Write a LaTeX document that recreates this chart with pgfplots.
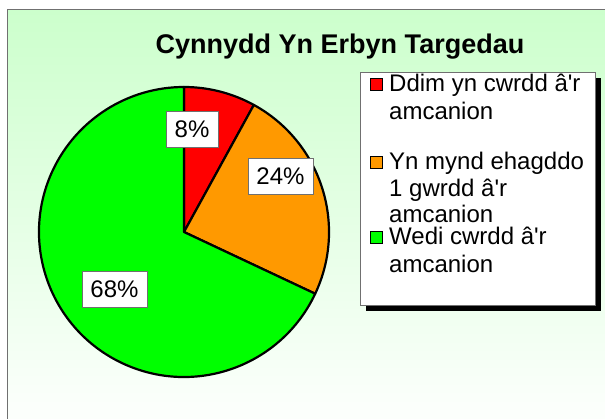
\documentclass[border=0pt]{standalone}
\usepackage{fontspec}
\setmainfont{Liberation Sans}
\usepackage{pgfplots}
\pgfplotsset{compat=1.18}

\definecolor{bgtop}{RGB}{204,255,204}
\definecolor{slicered}{RGB}{255,0,0}
\definecolor{sliceorange}{RGB}{255,153,0}
\definecolor{slicegreen}{RGB}{0,255,0}
\definecolor{framegray}{RGB}{112,112,112}

% pie values (percent), clockwise from the top
\def\vA{8}\def\vB{24}\def\vC{68}
\def\pcx{184}\def\pcy{187}\def\prad{145}
\newcommand{\ap}{\textquotesingle}

\begin{document}
\begin{tikzpicture}
\path[use as bounding box] (0,0) rectangle (605pt,419pt);
\clip (0,0) rectangle (605pt,419pt);
\pgfmathsetmacro{\aA}{90}
\pgfmathsetmacro{\aB}{90-3.6*\vA}
\pgfmathsetmacro{\aC}{\aB-3.6*\vB}
\pgfmathsetmacro{\aD}{\aC-3.6*\vC}
\begin{axis}[
    at={(0,0)}, anchor=south west,
    width=605pt, height=419pt, scale only axis,
    xmin=0, xmax=605, ymin=0, ymax=419,
    hide axis, clip=false,
]
% chart area
\shade[top color=bgtop, bottom color=white, draw=framegray, line width=1pt]
    (axis cs:7,-20) rectangle (axis cs:640,409);

% title
\node[anchor=base, font=\fontsize{27}{30}\selectfont\bfseries]
    at (axis cs:340,365.5) {Cynnydd Yn Erbyn Targedau};

% pie slices
\tikzset{slice/.style={draw=black, line width=2.2pt, line join=round}}
\filldraw[slice, fill=slicered]
    (axis cs:\pcx,\pcy) -- (axis cs:{\pcx+\prad*cos(\aA)},{\pcy+\prad*sin(\aA)})
    arc[start angle=\aA, end angle=\aB, radius=\prad] -- cycle;
\filldraw[slice, fill=sliceorange]
    (axis cs:\pcx,\pcy) -- (axis cs:{\pcx+\prad*cos(\aB)},{\pcy+\prad*sin(\aB)})
    arc[start angle=\aB, end angle=\aC, radius=\prad] -- cycle;
\filldraw[slice, fill=slicegreen]
    (axis cs:\pcx,\pcy) -- (axis cs:{\pcx+\prad*cos(\aC)},{\pcy+\prad*sin(\aC)})
    arc[start angle=\aC, end angle=\aD, radius=\prad] -- cycle;

% data labels
\tikzset{plabel/.style={fill=white, draw=framegray, line width=0.6pt,
    minimum height=36pt, inner sep=0pt, font=\fontsize{24}{28}\selectfont}}
\node[plabel, minimum width=52pt] at (axis cs:192,290) {\vA\%};
\node[plabel, minimum width=65pt] at (axis cs:280.5,243) {\vB\%};
\node[plabel, minimum width=65pt] at (axis cs:114.5,130) {\vC\%};

% legend
\fill[black] (axis cs:366,108) rectangle (axis cs:601,341);
\filldraw[fill=white, draw=framegray, line width=0.8pt]
    (axis cs:360,114) rectangle (axis cs:595,347);
\filldraw[fill=slicered, draw=black, line width=1pt] (axis cs:370,328) rectangle (axis cs:382,340);
\filldraw[fill=sliceorange, draw=black, line width=1pt] (axis cs:370,250) rectangle (axis cs:382,262);
\filldraw[fill=slicegreen, draw=black, line width=1pt] (axis cs:370,175) rectangle (axis cs:382,187);
\tikzset{ltext/.style={anchor=base west, inner sep=0pt, font=\fontsize{24}{28}\selectfont}}
\node[ltext] at (axis cs:389,327) {Ddim yn cwrdd â\ap r};
\node[ltext] at (axis cs:389,299) {amcanion};
\node[ltext] at (axis cs:389,249) {Yn mynd ehagddo};
\node[ltext] at (axis cs:389,222) {1 gwrdd â\ap r};
\node[ltext] at (axis cs:389,196) {amcanion};
\node[ltext] at (axis cs:389,174) {Wedi cwrdd â\ap r};
\node[ltext] at (axis cs:389,146) {amcanion};
\end{axis}
\end{tikzpicture}
\end{document}
